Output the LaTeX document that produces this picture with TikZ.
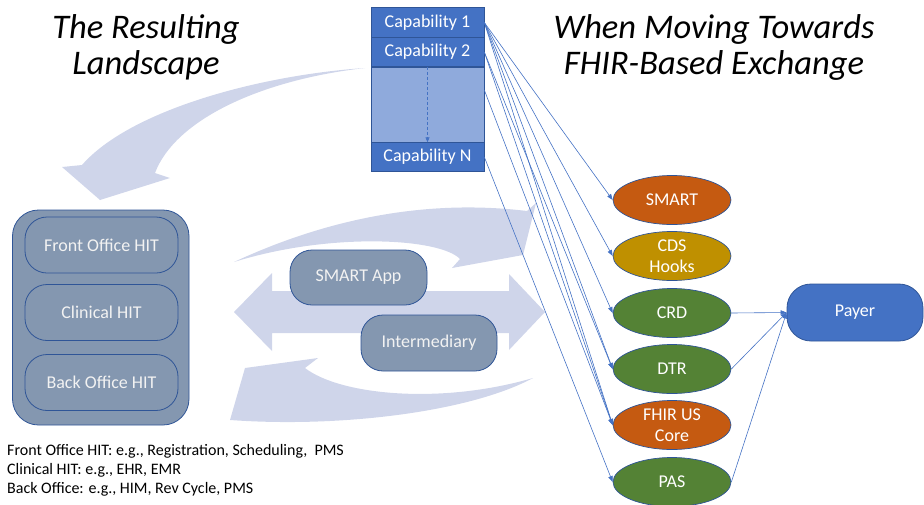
\documentclass[tikz,border=0pt]{standalone}
\usepackage{fontspec}
\setmainfont{Carlito}
\usetikzlibrary{shapes.geometric,arrows.meta}
\definecolor{cBlue}{HTML}{4472C4}
\definecolor{cMid}{HTML}{8FAADC}
\definecolor{cNavy}{HTML}{2F5597}
\definecolor{cSlate}{HTML}{8497B0}
\definecolor{cGhost}{HTML}{CFD5EA}
\definecolor{cOrange}{HTML}{C55A11}
\definecolor{cGold}{HTML}{BF9000}
\definecolor{cGreen}{HTML}{548235}
\begin{document}
\begin{tikzpicture}[x=1pt,y=-1pt,
  capbox/.style={draw=cNavy, line width=0.6pt, fill=cBlue, text=white, minimum width=113pt, minimum height=29.5pt, inner sep=0pt, font=\fontsize{18}{20}\selectfont},
  oval/.style={ellipse, draw=cNavy, line width=0.7pt, text=white, minimum width=118pt, minimum height=49pt, inner sep=0pt, align=center, font=\fontsize{18}{21}\selectfont},
  hitbox/.style={draw=cNavy, line width=0.8pt, fill=cSlate, text=white!95!black, rounded corners=22pt, minimum width=153pt, minimum height=56pt, inner sep=0pt, font=\fontsize{18}{20}\selectfont},
  link/.style={draw=cBlue, line width=0.6pt, -{Triangle[length=6pt,width=4.5pt]}},
  ghostshape/.style={fill=cGhost, draw=none},
  headline/.style={font=\fontsize{34.5}{36}\selectfont\itshape, align=center, inner sep=0pt},
]
\useasboundingbox (0,0) rectangle (924,504);

% large pale arrows
\path[ghostshape] (365,68) .. controls (260,75) and (130,110) .. (82,165)
  -- (62,167) -- (100,200) -- (170,178) -- (155,173)
  .. controls (175,120) and (260,80) .. (365,68) -- cycle;
\path[ghostshape] (234,262) .. controls (320,222) and (420,198) .. (527,211)
  -- (536,203) -- (523,255) -- (452,268) -- (460,259)
  .. controls (440,238) and (330,232) .. (234,262) -- cycle;
\path[ghostshape] (533,378) .. controls (470,412) and (340,428) .. (230,420)
  -- (245,368) -- (318,358) -- (305,368)
  .. controls (340,395) and (440,405) .. (533,378) -- cycle;
\path[ghostshape] (234,312) -- (272,273) -- (272,291) -- (509,291) -- (509,274)
  -- (545,312) -- (509,350) -- (509,333) -- (272,333) -- (272,351) -- cycle;

% titles
\node[headline] (tl) at (146,47) {The Resulting\\Landscape};
\node[headline] (tr) at (714,47) {When Moving Towards\\FHIR-Based Exchange};

% capabilities
\node[capbox] (cap1) at (427.5,22.5) {Capability 1};
\node[capbox] (cap2) at (427.5,52) {Capability 2};
\node[capbox, fill=cMid, minimum height=75pt] (capmid) at (427.5,104.5) {};
\node[capbox] (capn) at (427.5,157) {Capability N};
\draw[draw=cBlue, line width=0.6pt, dash pattern=on 3pt off 2pt, -{Triangle[length=5pt,width=4pt]}] (capmid.north) -- (capmid.south);
\coordinate (midpt) at (capmid.east |- 0,90);

% standards
\node[oval, fill=cOrange] (smart) at (672,200) {SMART};
\node[oval, fill=cGold] (cds) at (672,256) {CDS\\Hooks};
\node[oval, fill=cGreen] (crd) at (672,313) {CRD};
\node[oval, fill=cGreen] (dtr) at (672,369) {DTR};
\node[oval, fill=cOrange] (fhir) at (672,425) {FHIR US\\Core};
\node[oval, fill=cGreen] (pas) at (672,482) {PAS};

\node[draw=cNavy, line width=0.8pt, fill=cBlue, text=white, rounded corners=24pt, minimum width=136pt, minimum height=57pt, inner sep=0pt, font=\fontsize{18}{20}\selectfont] (payer) at (855,312.5) {Payer};

% HIT
\node[draw=cNavy, line width=0.8pt, fill=cSlate, rounded corners=26pt, minimum width=176.5pt, minimum height=215pt, inner sep=0pt] (hit) at (100.75,317.5) {};
\node[hitbox] (front) at (101.5,245) {Front Office HIT};
\node[hitbox] (clin) at (101.5,312.5) {Clinical HIT};
\node[hitbox] (back) at (101.5,382.5) {Back Office HIT};

\node[hitbox, minimum width=137pt, minimum height=55pt] (app) at (358.5,277.5) {SMART App};
\node[hitbox, minimum width=136pt, minimum height=56pt] (inter) at (429,343) {Intermediary};

\node[anchor=west, align=left, inner sep=0pt, font=\fontsize{16}{19}\selectfont] (notes) at (7,470)
  {Front Office HIT: e.g., Registration, Scheduling,\ \ PMS\\
   Clinical HIT: e.g., EHR, EMR\\
   Back Office: e.g., HIM, Rev Cycle, PMS};

% links
\draw[link] (cap1.east) -- (smart.west);
\draw[link] (cap1.east) -- (cds.west);
\draw[link] (cap1.east) -- (crd.west);
\draw[link] (cap1.east) -- (dtr.west);
\draw[link] (cap1.east) -- (fhir.west);
\draw[link] (cap2.east) -- (dtr.west);
\draw[link] (cap2.east) -- (fhir.west);
\draw[link] (midpt) -- (fhir.west);
\draw[link] (capn.east) -- (pas.west);
\draw[link] (crd.east) -- (payer.west);
\draw[link] (dtr.east) -- (payer.west);
\draw[link] (pas.east) -- (payer.west);
\end{tikzpicture}
\end{document}
